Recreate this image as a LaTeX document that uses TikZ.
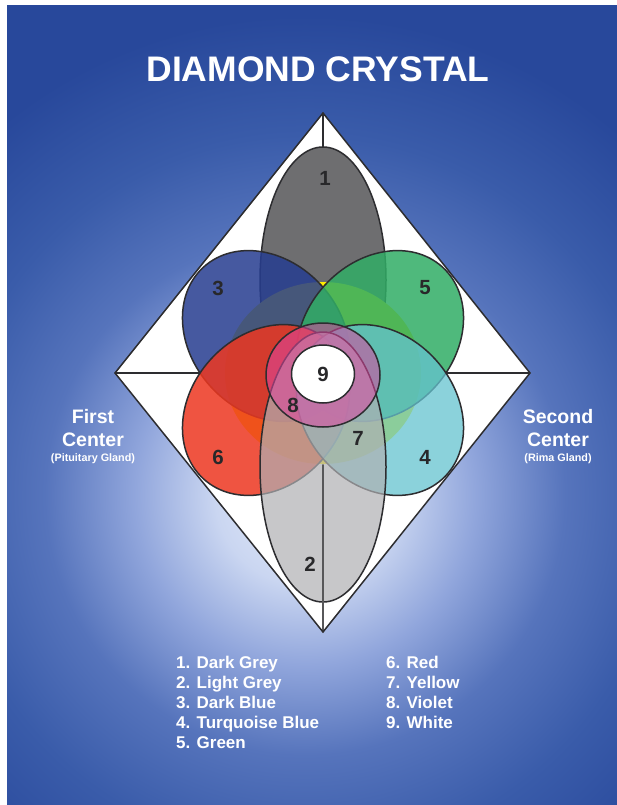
\documentclass[tikz,border=0pt]{standalone}
\usepackage{fontspec}
\setmainfont{Liberation Sans}
\definecolor{bg0}{RGB}{232,238,250}
\definecolor{bg1}{RGB}{202,214,241}
\definecolor{bg2}{RGB}{145,166,220}
\definecolor{bg3}{RGB}{86,116,188}
\definecolor{bg4}{RGB}{58,92,170}
\definecolor{bg5}{RGB}{40,72,155}
\pgfdeclareradialshading{bgshade}{\pgfpoint{0bp}{0bp}}{color(0bp)=(bg0); color(3.21bp)=(bg1); color(6.07bp)=(bg2); color(9.29bp)=(bg3); color(12.86bp)=(bg4); color(17.14bp)=(bg5); color(50bp)=(bg5)}
\definecolor{outc}{RGB}{45,45,48}
\definecolor{numc}{RGB}{40,40,42}
\definecolor{dgrey}{RGB}{110,110,112}
\definecolor{lgrey}{RGB}{176,176,179}
\definecolor{yel}{RGB}{255,237,0}
\definecolor{pblue}{RGB}{38,61,144}
\definecolor{pgreen}{RGB}{49,173,102}
\definecolor{pred}{RGB}{237,55,32}
\definecolor{pturq}{RGB}{101,195,208}
\definecolor{pviolet}{RGB}{220,70,160}
\begin{document}
\begin{tikzpicture}[x=1pt,y=-1pt,
  outl/.style={draw=outc,line width=1.5pt},
  num/.style={font=\bfseries\fontsize{20.5}{20.5}\selectfont,text=numc,inner sep=0pt},
  legend/.style={font=\bfseries\fontsize{17}{17}\selectfont,text=white,inner sep=0pt,anchor=base west},
  side/.style={font=\bfseries\fontsize{19.5}{19.5}\selectfont,text=white,inner sep=0pt,anchor=base},
  sidesmall/.style={font=\bfseries\fontsize{10.8}{10.8}\selectfont,text=white,inner sep=0pt,anchor=base},
  petalshape/.style={x radius=93,y radius=75}]
\useasboundingbox (0,0) rectangle (617,805);
\fill[white] (0,0) rectangle (617,805);
\begin{scope}
  \clip (7,6) rectangle (617,805);
  \shade[shading=bgshade] (305,495) circle (700);
\end{scope}
% diamond
\coordinate (T) at (323,113);
\coordinate (L) at (115,373);
\coordinate (R) at (530,373);
\coordinate (B) at (323,632);
\fill[white] (T)--(R)--(B)--(L)--cycle;
\draw[outl] (L)--(R);
\draw[outl] (T)--(B);
% white underlays for petals
\fill[white,rotate around={-48:(266,336)}] (266,336) ellipse [petalshape];
\fill[white,rotate around={48:(380,336)}] (380,336) ellipse [petalshape];
\fill[white,rotate around={48:(266,410)}] (266,410) ellipse [petalshape];
\fill[white,rotate around={-48:(380,410)}] (380,410) ellipse [petalshape];
% 1 dark grey
\filldraw[fill=dgrey,outl] (323,280) ellipse [x radius=63,y radius=133];
% 7 yellow
\fill[yel] (323,373) ellipse [x radius=98,y radius=91];
% petals
\filldraw[fill=pblue,fill opacity=0.85,outl,rotate around={-48:(266,336)}] (266,336) ellipse [petalshape];
\filldraw[fill=pgreen,fill opacity=0.85,outl,rotate around={48:(380,336)}] (380,336) ellipse [petalshape];
\filldraw[fill=pred,fill opacity=0.85,outl,rotate around={48:(266,410)}] (266,410) ellipse [petalshape];
\filldraw[fill=pturq,fill opacity=0.75,outl,rotate around={-48:(380,410)}] (380,410) ellipse [petalshape];
% 2 light grey
\filldraw[fill=lgrey,fill opacity=0.7,outl] (323,467) ellipse [x radius=63,y radius=135];
\coordinate (Y) at (323,465);
\draw[draw=outc!80,line width=1.3pt] (Y)--(B);
% 8 violet ring and 9 white
\filldraw[fill=pviolet,fill opacity=0.55,outl] (323,375) ellipse [x radius=57,y radius=52];
\filldraw[fill=white,outl] (323,374) ellipse [x radius=31.5,y radius=29];
\draw[outl] (T)--(R)--(B)--(L)--cycle;
% numbers
\node[num] (n1) at (325,178) {1};
\node[num] (n2) at (310,564) {2};
\node[num] (n3) at (218,288) {3};
\node[num] (n4) at (425,457) {4};
\node[num] (n5) at (425,288) {5};
\node[num] (n6) at (218,457) {6};
\node[num] (n7) at (358,438) {7};
\node[num] (n8) at (293,405) {8};
\node[num] (n9) at (323,374) {9};
% title
\node[font=\bfseries\fontsize{35.5}{35.5}\selectfont,text=white,inner sep=0pt,anchor=base] (title) at (318,82) {DIAMOND CRYSTAL};
% sides
\node[side] (f1) at (93,423) {First};
\node[side] (f2) at (93,446) {Center};
\node[sidesmall] (f3) at (93,461) {(Pituitary Gland)};
\node[side] (s1) at (558,423) {Second};
\node[side] (s2) at (558,446) {Center};
\node[sidesmall] (s3) at (558,461) {(Rima Gland)};
% legend
\node[legend] (l1) at (176,668) {1. Dark Grey};
\node[legend] (l2) at (176,688) {2. Light Grey};
\node[legend] (l3) at (176,708) {3. Dark Blue};
\node[legend] (l4) at (176,728) {4. Turquoise Blue};
\node[legend] (l5) at (176,748) {5. Green};
\node[legend] (l6) at (386,668) {6. Red};
\node[legend] (l7) at (386,688) {7. Yellow};
\node[legend] (l8) at (386,708) {8. Violet};
\node[legend] (l9) at (386,728) {9. White};
\end{tikzpicture}
\end{document}
